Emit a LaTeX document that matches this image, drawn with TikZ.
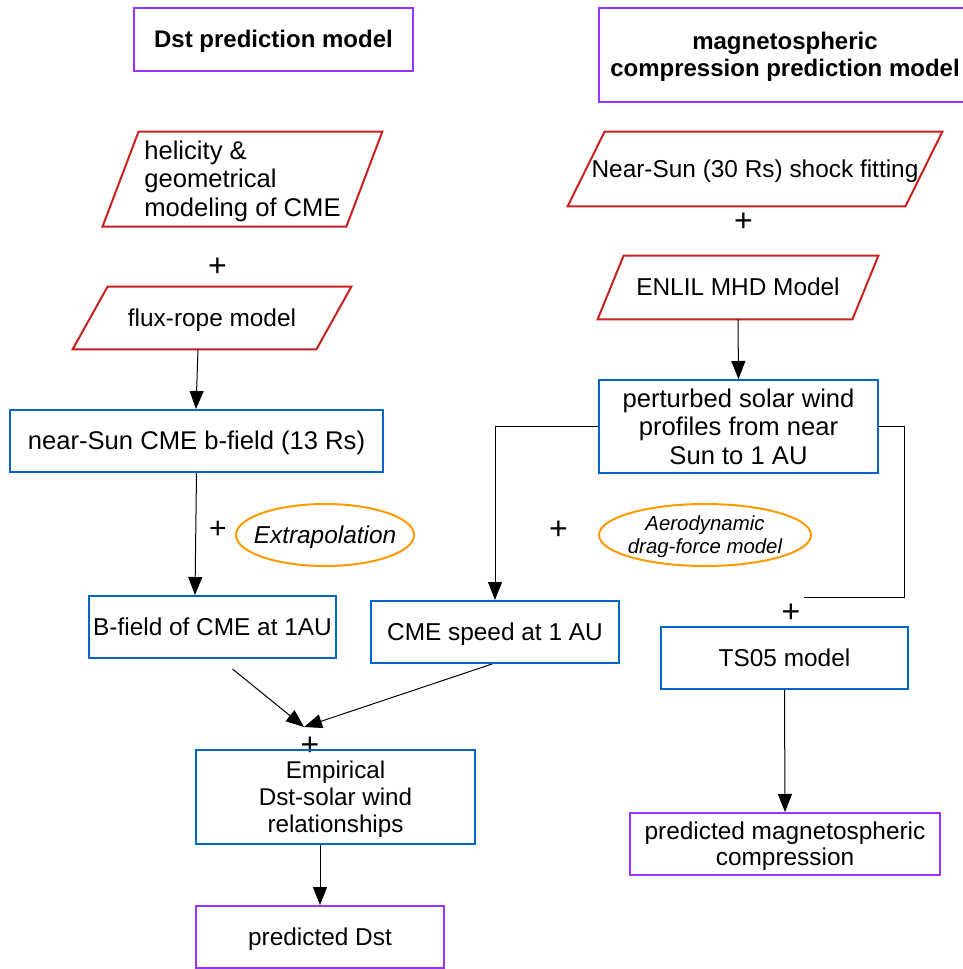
\documentclass[tikz,border=0pt]{standalone}
\usepackage{fontspec}
\setmainfont{Liberation Sans}
\usetikzlibrary{shapes.geometric, arrows.meta, positioning, calc}
\definecolor{flowRed}   {HTML}{C9211E}
\definecolor{flowBlue}  {HTML}{0066CC}
\definecolor{flowPurple}{HTML}{9933FF}
\definecolor{flowOrange}{HTML}{FF9900}
\newcommand{\flowfont}{\fontsize{12.2}{14.2}\selectfont}
\newcommand{\bigflowfont}{\fontsize{12.8}{14.2}\selectfont}
% parallelogram drawn round a (borderless) input node
\newcommand{\slantbox}[2]{%
  \draw[inline] ($(#1.south west)+(-#2,0)$) -- ($(#1.north west)+(#2,0)$)
    -- ($(#1.north east)+(#2,0)$) -- ($(#1.south east)+(-#2,0)$) -- cycle;}
\tikzset{
  block/.style  = {rectangle, draw=flowBlue, line width=1pt, align=center,
                   inner sep=2pt, font=\flowfont},
  result/.style = {rectangle, draw=flowPurple, line width=1pt, align=center,
                   inner sep=2pt, font=\flowfont},
  inbox/.style  = {rectangle, align=center, inner sep=2pt, font=\flowfont},
  inline/.style = {draw=flowRed, line width=1pt},
  oneline/.style= {text height=11pt, text depth=2.6pt},
  arrow/.style  = {-{Triangle[length=9pt, width=7pt]}, line width=0.5pt, black},
  line/.style   = {line width=0.5pt, black},
}

\begin{document}
\begin{tikzpicture}[
  x=0.5pt, y=-0.5pt,
  title/.style={rectangle, draw=flowPurple, line width=1pt, align=center,
                font=\bfseries\fontsize{12}{13.5}\selectfont},
  plus/.style={inner sep=0pt, font=\fontsize{16}{16}\selectfont},
  ovaltext/.style={align=center, inner sep=0pt},
  oval/.style={draw=flowOrange, line width=1pt},
]
\useasboundingbox (0,0) rectangle (963,969);
\clip (0,0) rectangle (963,969);

% Dst side
\node[title, oneline, minimum width=139.5pt, minimum height=31.5pt] (dsttitle) at (273.5,39.5) {Dst prediction model};
\node[inbox, align=left, font=\fontsize{12.8}{14.4}\selectfont, text height=40.4pt, text depth=2.7pt,
      minimum width=121.5pt, minimum height=47pt] (helic) at (242.5,179)
  {helicity \&\\geometrical\\modeling of CME};
\slantbox{helic}{18}
\node[plus] (plusa) at (217.5,267) {+};
\node[inbox, oneline, minimum width=121.5pt, minimum height=31pt] (flux) at (212,318) {flux-rope model};
\slantbox{flux}{17.5}
\node[block, oneline, font=\bigflowfont, minimum width=186.5pt, minimum height=31pt] (ncme) at (196.5,441) {near-Sun CME b-field (13 Rs)};
\node[plus, font=\fontsize{15}{15}\selectfont] (plusb) at (218,530) {+};
\node[ovaltext, oneline, font=\itshape\flowfont] (extra) at (325,535) {Extrapolation};
\draw[oval] (extra) ellipse [x radius=44.5pt, y radius=15.5pt];
\node[block, oneline, minimum width=123.5pt, minimum height=31pt] (bfield) at (212.5,627) {B-field of CME at 1AU};
\node[block, oneline, minimum width=124pt, minimum height=31pt] (cspeed) at (495,632) {CME speed at 1 AU};
\coordinate (join) at (304,727);
\node[plus] (plusc) at (310,746) {+};
\node[block, font=\fontsize{12.1}{13.5}\selectfont, text height=37.95pt, text depth=2.57pt,
      minimum width=139.5pt, minimum height=47pt] (emp) at (335.5,797)
  {Empirical\\Dst-solar wind\\relationships};
\node[result, oneline, minimum width=124pt, minimum height=31pt] (pdst) at (320,937) {predicted Dst};

% magnetospheric side
\node[title, text height=24.4pt, text depth=2.55pt, minimum width=186pt, minimum height=47pt] (magtitle) at (785,55)
  {magnetospheric\\compression prediction model};
\node[inbox, oneline, minimum width=168.5pt, minimum height=37pt] (shock) at (755,169) {Near-Sun (30 Rs) shock fitting};
\slantbox{shock}{18.5}
\node[plus] (plusd) at (743.5,222) {+};
\node[inbox, oneline, minimum width=127pt, minimum height=31.5pt] (enlil) at (738,287.5) {ENLIL MHD Model};
\slantbox{enlil}{13}
\node[block, font=\bigflowfont, minimum width=139.5pt, minimum height=46.5pt] (pert) at (738.5,426.5)
  {perturbed solar wind\\profiles from near\\Sun to 1 AU};
\node[plus] (pluse) at (558.5,530) {+};
\node[ovaltext, font=\itshape\fontsize{10.2}{11.5}\selectfont, text height=20.7pt, text depth=2.16pt] (aero) at (705,535)
  {Aerodynamic\\drag-force model};
\draw[oval] (aero) ellipse [x radius=53pt, y radius=15.5pt];
\coordinate (tsend) at (804,597);
\node[plus] (plusf) at (791,613) {+};
\node[block, oneline, minimum width=123.5pt, minimum height=31pt] (ts) at (784.5,658) {TS05 model};
\node[result, font=\fontsize{12.2}{13}\selectfont, text height=24pt, text depth=2.6pt,
      minimum width=155pt, minimum height=31pt] (predmag) at (785,844)
  {predicted magnetospheric\\compression};

\draw[arrow] ([xshift=-7pt]flux.south) -- ([xshift=-0.25pt]ncme.north);
\draw[arrow] (ncme.south) -- ([xshift=-8.75pt]bfield.north);
\draw[arrow] ([xshift=10pt, yshift=-5pt]bfield.south) -- (join);
\draw[arrow] ([xshift=-1.5pt]cspeed.south) -- (join);
\draw[arrow] ([xshift=-7.75pt]emp.south) -- (pdst.north);
\draw[arrow] (enlil.south) -- (pert.north);
\draw[arrow] (pert.west) -| (cspeed.north);
\draw[line] (pert.east) -- ++(25,0) |- (tsend);
\draw[arrow] (ts.south) -- (predmag.north);

\end{tikzpicture}
\end{document}
